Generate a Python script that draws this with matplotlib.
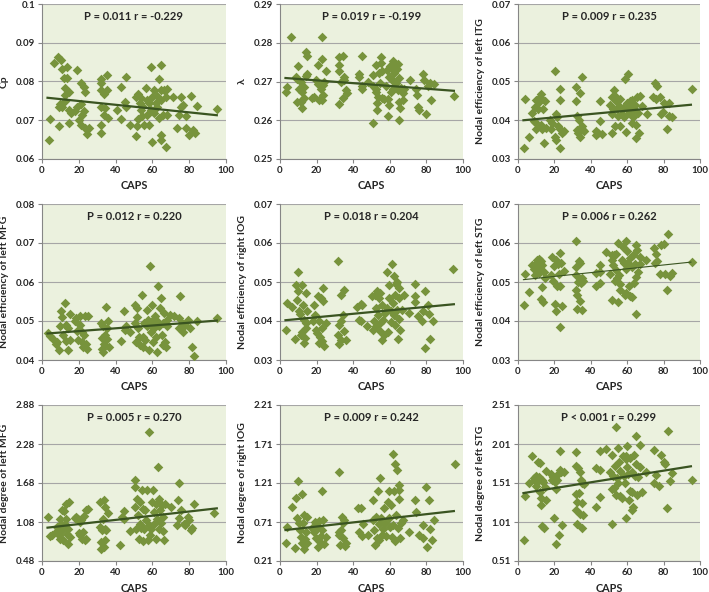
import matplotlib
matplotlib.use("Agg")
import matplotlib.pyplot as plt
import numpy as np

plt.rcParams['font.family'] = ['Lato', 'DejaVu Sans']

# ---------------- data ----------------
caps_label = "CAPS"
x_ticks = [0, 20, 40, 60, 80, 100]
trend_x = [3, 95]

# Panel 1: Cp
p1_x = [3.6, 4.5, 6.4, 8.5, 10.5, 9.5, 11, 13.6, 11.8, 13.6, 12.4, 14.5, 12.7, 10, 11, 9, 12.7, 14.5, 15.5, 14.5,
        19, 21, 23, 23.6, 19, 20, 21, 22, 23, 23.6, 24.5, 25.5, 21, 18, 32, 32, 35.5, 32, 33.6, 35.5, 32, 34.5, 33.6,
        36, 32, 32, 40.5, 43, 45.5, 43, 45, 45.5, 48, 51, 52, 51, 52, 53, 53.6, 53.6, 54.5, 55.5, 56.4, 57, 57, 58,
        59, 59.5, 60, 60, 61, 61, 62, 62.7, 63.6, 63.6, 64.5, 64.5, 64.5, 65.5, 64.5, 64.5, 66.4, 67.3, 67.3, 68, 68,
        71, 73.6, 74.5, 75.5, 75.5, 76.4, 78, 78, 80, 81, 82, 83, 84.5, 95, 51.5, 54.5, 58, 62.7]
p1_y = [0.065, 0.0703, 0.0849, 0.0862, 0.0855, 0.0684, 0.0832, 0.0837, 0.0808, 0.0808, 0.0782, 0.0773, 0.0765,
        0.0743, 0.0735, 0.0735, 0.075, 0.0727, 0.0718, 0.0692, 0.083, 0.0797, 0.0785, 0.0773, 0.0735, 0.0701, 0.0688,
        0.0714, 0.0723, 0.068, 0.0665, 0.068, 0.0743, 0.0723, 0.0806, 0.0796, 0.0818, 0.0777, 0.0769, 0.0779, 0.0735,
        0.0731, 0.0714, 0.0706, 0.0689, 0.0667, 0.0726, 0.0785, 0.0811, 0.0703, 0.0746, 0.0735, 0.0689, 0.0761, 0.0769,
        0.0659, 0.0702, 0.0745, 0.0727, 0.0758, 0.071, 0.0689, 0.0782, 0.0753, 0.0714, 0.0689, 0.0727, 0.0838, 0.0761,
        0.0643, 0.0779, 0.0719, 0.0745, 0.0735, 0.0806, 0.0706, 0.0842, 0.0779, 0.0753, 0.0714, 0.0663, 0.065, 0.0777,
        0.0631, 0.0761, 0.078, 0.0714, 0.076, 0.068, 0.0714, 0.0735, 0.076, 0.074, 0.0712, 0.068, 0.0663, 0.0763,
        0.0676, 0.0667, 0.0738, 0.0729, 0.0684, 0.0736, 0.0745, 0.0762]
p1_trend = [0.0758, 0.0713]

# Panel 2: lambda
p2_x = [3.1, 4, 6.2, 8.6, 9.5, 10, 9.5, 10.4, 11.3, 11.3, 12.2, 13, 13, 14, 14, 15, 15, 12, 12.2, 17.7, 18.6, 19.5,
        20.5, 21, 21.4, 22.3, 23, 23, 23, 23.7, 23.7, 24, 25, 32, 32, 32.4, 32, 33.3, 34.2, 34.2, 34.7, 35, 36, 36.4,
        43, 43, 44.8, 44.8, 44.8, 48.3, 50.6, 51, 51, 52.2, 52.2, 52.5, 52.8, 53, 53.4, 54.3, 54.7, 55.2, 55.2, 55.8,
        56, 57, 58, 58.3, 58.9, 58.9, 59.8, 59.8, 60, 60.7, 61.2, 61.6, 61.6, 62, 62.5, 63, 63.4, 64, 64.4, 64.7, 65,
        65.3, 65.3, 65.6, 66.2, 67, 67, 68, 70.8, 74.4, 74.8, 75.3, 75.9, 78, 78.9, 79.9, 80.8, 81.7, 82.6, 84, 95]
p2_y = [0.2672, 0.2687, 0.2814, 0.2711, 0.2706, 0.274, 0.2648, 0.268, 0.27, 0.2648, 0.2672, 0.2657, 0.2685, 0.2777,
        0.2713, 0.2766, 0.272, 0.2631, 0.2652, 0.2657, 0.2661, 0.2704, 0.2694, 0.2743, 0.2651, 0.268, 0.2814, 0.2758,
        0.2651, 0.2692, 0.2665, 0.27, 0.2727, 0.2763, 0.2743, 0.2727, 0.2643, 0.27, 0.2766, 0.2657, 0.2704, 0.2711,
        0.2679, 0.267, 0.272, 0.2711, 0.2766, 0.2689, 0.268, 0.27, 0.2717, 0.2689, 0.2593, 0.2743, 0.268, 0.2674,
        0.2645, 0.2627, 0.2661, 0.2722, 0.2697, 0.2763, 0.2747, 0.2657, 0.2727, 0.2654, 0.2689, 0.273, 0.2654, 0.261,
        0.264, 0.2711, 0.2739, 0.2672, 0.2704, 0.2754, 0.273, 0.268, 0.2722, 0.2743, 0.2696, 0.2732, 0.2677, 0.2745,
        0.2601, 0.2709, 0.2648, 0.2631, 0.2683, 0.267, 0.2652, 0.268, 0.2704, 0.268, 0.2665, 0.2634, 0.2627, 0.272,
        0.2703, 0.2617, 0.2689, 0.2697, 0.2651, 0.2694, 0.2663]
p2_trend = [0.2709, 0.2676]

# Panel 3: nodal efficiency of left ITG
p3_x = [3.1, 4, 6, 7.9, 8.6, 9.2, 9.5, 10.1, 10.1, 11, 11.4, 12, 12.8, 12.8, 13.4, 13.8, 14.1, 14.7, 15.2, 17.4,
        18.3, 18.9, 20.2, 20.2, 20.7, 21.1, 21.5, 22, 22.9, 22.9, 22.9, 23.3, 24.4, 25, 32.1, 32.1, 32.5, 32.5, 33,
        33.6, 33.9, 34.3, 34.9, 35.4, 35.8, 36.1, 42.8, 43.1, 44, 45.3, 45.3, 45.9, 50.8, 51.4, 51.4, 51.9, 52.3,
        52.7, 53.2, 53.8, 54.1, 54.5, 55, 55.4, 56, 56.3, 56.9, 57.8, 58.2, 58.7, 59.6, 60, 60, 60.6, 61.1, 61.5,
        61.8, 62.4, 62.9, 63.3, 63.7, 64.2, 64.8, 65.1, 65.5, 66, 66.6, 67, 67.9, 71, 74.3, 75.2, 76.1, 75.6, 78,
        78.3, 79.8, 80.2, 81.7, 83, 83.1, 84.4, 95.4]
p3_y = [0.0328, 0.0455, 0.0358, 0.0419, 0.0397, 0.0395, 0.0434, 0.0453, 0.0378, 0.0428, 0.0446, 0.046, 0.0468,
        0.0389, 0.0378, 0.0428, 0.034, 0.0449, 0.038, 0.0401, 0.0378, 0.0393, 0.0526, 0.0357, 0.0415, 0.035, 0.0409,
        0.0386, 0.0453, 0.048, 0.0328, 0.0378, 0.0367, 0.0371, 0.0485, 0.0449, 0.041, 0.0374, 0.0367, 0.04, 0.047,
        0.0358, 0.0511, 0.0386, 0.0375, 0.0371, 0.0371, 0.0362, 0.0367, 0.0397, 0.0449, 0.0365, 0.044, 0.0461,
        0.0367, 0.0415, 0.0428, 0.0479, 0.0384, 0.0449, 0.0459, 0.0428, 0.041, 0.0436, 0.0384, 0.0455, 0.0415,
        0.0432, 0.0409, 0.0506, 0.0369, 0.0444, 0.0428, 0.0519, 0.0419, 0.0434, 0.0449, 0.0393, 0.0453, 0.0409,
        0.0428, 0.044, 0.0354, 0.0389, 0.0461, 0.0419, 0.0367, 0.0462, 0.0438, 0.0415, 0.0461, 0.0495, 0.0489,
        0.0455, 0.046, 0.0415, 0.0421, 0.0444, 0.0378, 0.0444, 0.041, 0.0409, 0.048]
p3_trend = [0.0400, 0.0440]

# Panel 4: nodal efficiency of left MFG
p4_x = [3.3, 4.2, 6, 7.5, 8.2, 9.3, 9.6, 10.5, 11.1, 11.5, 12.4, 12.9, 13.3, 14.2, 14.2, 15.1, 15.1, 17.8, 18.7,
        19.1, 19.6, 20.5, 20.9, 21.5, 22, 22.4, 22.7, 23.3, 23.8, 24.2, 25.1, 31.8, 32.4, 32.4, 32.9, 33.3, 33.6,
        34.2, 34.7, 35.1, 35.5, 36, 36.5, 42.7, 44.5, 45.1, 45.6, 47.8, 50.5, 50.5, 51.1, 51.5, 51.8, 52.4, 52.9,
        53.3, 54.2, 54.7, 55.1, 55.5, 56, 56.9, 57.3, 57.8, 58.2, 58.7, 59.1, 59.6, 59.6, 60.2, 60.5, 60.9, 61.5,
        62, 62.4, 62.7, 63.3, 63.8, 64.2, 64.5, 65.1, 65.6, 66, 66.4, 66.9, 67.5, 67.8, 68.2, 69.6, 71.5, 74.2,
        75.1, 74.7, 76, 76.9, 77.8, 79.6, 80.5, 81.5, 82.4, 84.2, 95]
p4_y = [0.0468, 0.0462, 0.0454, 0.044, 0.0447, 0.0426, 0.0486, 0.0525, 0.0509, 0.0464, 0.0546, 0.0491, 0.0449,
        0.0481, 0.0426, 0.0518, 0.0451, 0.0499, 0.0508, 0.0475, 0.0451, 0.0491, 0.0512, 0.0447, 0.0473, 0.0434,
        0.0464, 0.0512, 0.0442, 0.0428, 0.0512, 0.0495, 0.0456, 0.0428, 0.0421, 0.0486, 0.0442, 0.0464, 0.0535,
        0.0481, 0.0454, 0.0499, 0.0434, 0.0449, 0.0525, 0.0477, 0.0486, 0.0473, 0.0542, 0.0495, 0.0447, 0.0534,
        0.0509, 0.0481, 0.046, 0.0439, 0.0567, 0.046, 0.0434, 0.0495, 0.0451, 0.0529, 0.0486, 0.0503, 0.0426,
        0.0641, 0.0473, 0.0542, 0.0495, 0.0447, 0.0503, 0.0481, 0.0512, 0.046, 0.042, 0.0499, 0.0591, 0.0486,
        0.0534, 0.056, 0.0464, 0.0439, 0.0495, 0.052, 0.0447, 0.0434, 0.0503, 0.0486, 0.0516, 0.0512, 0.0481,
        0.0564, 0.0508, 0.0495, 0.0473, 0.049, 0.0503, 0.0481, 0.0434, 0.0409, 0.0499, 0.0508]
p4_trend = [0.0468, 0.0501]

# Panel 5: nodal efficiency of right IOG
p5_x = [3.1, 4, 6.4, 8.2, 8.9, 9.5, 10, 10, 10.4, 10.7, 11.3, 11.8, 12.2, 12.7, 13.1, 13.1, 13.6, 14, 14, 14.4,
        14.9, 18, 18.5, 19, 19.8, 20.4, 20.9, 21.3, 21.3, 21.8, 22.4, 22.7, 23.1, 23.5, 23.5, 24, 24.9, 31.8, 31.8,
        32.2, 32.2, 33.1, 33.6, 33.6, 34.4, 34.9, 34.9, 35.8, 42.2, 43.1, 44, 44.5, 44.9, 47.6, 50.4, 50.7, 51.3,
        51.8, 52.2, 52.5, 53.1, 53.6, 54, 54.4, 54.9, 54.9, 55.5, 55.8, 56.2, 56.7, 57.6, 58.5, 58.5, 59.1, 59.5,
        59.8, 60.4, 60.9, 61.3, 61.6, 62.2, 62.5, 62.7, 63.1, 63.5, 64, 64.2, 64.5, 64.9, 64.9, 65.3, 65.8, 66.7,
        67.6, 70.4, 73.6, 74, 74, 75.5, 77.6, 78, 79.5, 79.5, 81, 81.3, 82.2, 83.5, 94.4]
p5_y = [0.0377, 0.0446, 0.0435, 0.0354, 0.0493, 0.0454, 0.0526, 0.0476, 0.0425, 0.0418, 0.0365, 0.0493, 0.0372,
        0.0441, 0.0403, 0.0343, 0.0356, 0.0471, 0.0382, 0.0395, 0.0425, 0.0399, 0.0441, 0.0416, 0.0377, 0.0368,
        0.0463, 0.0399, 0.0343, 0.036, 0.0458, 0.0349, 0.0383, 0.0484, 0.0452, 0.0337, 0.0395, 0.0555, 0.0365,
        0.0391, 0.034, 0.0399, 0.0467, 0.0351, 0.0416, 0.048, 0.0374, 0.0351, 0.0437, 0.0403, 0.0443, 0.04, 0.0441,
        0.0386, 0.0463, 0.0377, 0.04, 0.0467, 0.0433, 0.0386, 0.0476, 0.0416, 0.0458, 0.0395, 0.0471, 0.0374,
        0.0351, 0.0441, 0.0403, 0.0365, 0.042, 0.0526, 0.0433, 0.0372, 0.0493, 0.0458, 0.0426, 0.0397, 0.0545,
        0.0446, 0.0416, 0.0516, 0.039, 0.0467, 0.0496, 0.0429, 0.05, 0.0354, 0.0484, 0.0406, 0.0458, 0.0377,
        0.0429, 0.0467, 0.042, 0.0494, 0.0465, 0.045, 0.0412, 0.04, 0.0425, 0.033, 0.0477, 0.0441, 0.0418, 0.0354,
        0.04, 0.0534]
p5_trend = [0.0402, 0.0443]

# Panel 6: nodal efficiency of left STG
p6_x = [3.1, 4, 6.1, 7.9, 8.6, 9.2, 9.7, 10.1, 10.6, 11, 11.4, 11.6, 11.9, 12.3, 12.8, 12.8, 13.2, 13.4, 13.8, 14.1,
        14.7, 18.3, 18.9, 19.3, 19.6, 20.2, 20.7, 21.1, 21.5, 22, 22.6, 22.9, 22.9, 23.3, 23.9, 24.4, 25.1, 32.1,
        32.1, 32.1, 32.1, 32.5, 32.5, 33, 33.6, 33.9, 34.3, 34.5, 34.9, 35.4, 35.8, 42.8, 43.1, 45, 45.3, 45.3,
        48.3, 50.8, 51.4, 51.4, 51.9, 52.3, 52.7, 53.2, 53.8, 54.1, 54.5, 55, 55, 55.6, 56, 56.3, 57.4, 57.8, 58.2,
        58.7, 59.3, 59.6, 59.6, 60, 60.6, 61.1, 61.5, 61.8, 62.4, 62.9, 63.3, 63.7, 64.2, 64.7, 64.7, 65.1, 65.5,
        66, 67, 67.3, 70.6, 74.7, 75.2, 75.8, 76.1, 78, 78.3, 80.2, 80.7, 81.7, 82.6, 83.5, 84.4, 95.4]
p6_y = [0.0441, 0.0521, 0.0474, 0.0543, 0.0534, 0.0519, 0.0545, 0.0532, 0.0557, 0.054, 0.0523, 0.056, 0.0549,
        0.0534, 0.0555, 0.0457, 0.0486, 0.0543, 0.045, 0.0526, 0.051, 0.0517, 0.0563, 0.0503, 0.054, 0.0444, 0.0557,
        0.0425, 0.0491, 0.0545, 0.0521, 0.0574, 0.0384, 0.0489, 0.0549, 0.0438, 0.0529, 0.0604, 0.0538, 0.0519,
        0.048, 0.0467, 0.0432, 0.05, 0.0553, 0.0452, 0.0549, 0.0497, 0.0429, 0.051, 0.0503, 0.0489, 0.0523, 0.0543,
        0.0526, 0.0497, 0.0577, 0.0521, 0.057, 0.0454, 0.0557, 0.0543, 0.0569, 0.0502, 0.0532, 0.0572, 0.051,
        0.06, 0.045, 0.0519, 0.048, 0.0495, 0.0557, 0.0589, 0.0549, 0.0467, 0.0604, 0.0534, 0.0471, 0.0579,
        0.0549, 0.0489, 0.0465, 0.0562, 0.0538, 0.0462, 0.057, 0.0497, 0.0545, 0.0596, 0.0418, 0.0514, 0.0581,
        0.0526, 0.0563, 0.0545, 0.0557, 0.0587, 0.0549, 0.0572, 0.0553, 0.0521, 0.0596, 0.0598, 0.0521, 0.048,
        0.0623, 0.0515, 0.0523, 0.0551]
p6_trend = [0.0506, 0.0551]

# Panel 7: nodal degree of left MFG
p7_x = [3.3, 4.2, 5.6, 7.4, 8.1, 9.2, 9.6, 9.9, 10.5, 10.7, 11, 11.4, 11.8, 12.3, 12.8, 13.2, 13.7, 14.1, 14.1,
        14.6, 15, 17.7, 18.6, 19.5, 20.1, 20.4, 20.8, 21.3, 21.9, 22.2, 22.6, 23.1, 23.7, 24, 25, 31.6, 31.6,
        32.2, 32.2, 32.7, 33.1, 33.5, 33.5, 34, 34, 34.5, 34.9, 35.8, 42.5, 43.6, 44.3, 44.8, 47.6, 50.3, 50.3,
        50.8, 51.2, 51.5, 52.1, 52.6, 53, 53.3, 53.9, 54.4, 54.8, 55.1, 55.7, 56.2, 56.6, 57, 57.5, 58, 58.4, 58.8,
        59.3, 59.9, 60.2, 60.6, 61.1, 61.7, 62, 62.4, 62.9, 63.5, 63.8, 64.2, 64.7, 65.3, 65.6, 66, 66.5, 67.1,
        70.2, 73.2, 73.8, 74.7, 74.3, 75.6, 77.4, 77.9, 79.2, 79.7, 81, 81.6, 82.8, 93.7]
p7_y = [1.157, 0.865, 0.885, 0.926, 1.003, 0.875, 0.824, 1.131, 1.054, 1.259, 0.952, 0.798, 1.244, 1.054, 1.362,
        1.121, 0.9, 0.747, 0.977, 1.388, 0.849, 1.141, 1.157, 1.131, 0.916, 1.08, 0.885, 1.106, 0.824, 0.926,
        1.172, 0.798, 0.824, 1.259, 1.285, 1.388, 1.003, 0.772, 0.67, 0.952, 1.131, 1.413, 0.695, 0.798, 0.977,
        1.31, 0.952, 1.223, 0.731, 1.157, 1.244, 1.131, 0.936, 1.731, 1.613, 1.31, 0.977, 1.439, 1.182, 0.819,
        1.054, 1.388, 0.987, 1.567, 1.285, 0.788, 0.977, 1.259, 1.106, 1.577, 0.798, 1.029, 2.47, 0.885, 0.967,
        1.388, 1.577, 1.233, 1.054, 0.824, 1.362, 1.131, 1.926, 0.977, 1.429, 1.259, 1.07, 1.336, 0.936, 1.157,
        0.798, 1.362, 1.31, 1.039, 1.413, 1.68, 1.141, 1.259, 1.054, 1.039, 1.157, 1.106, 0.952, 0.987, 1.362,
        1.223]
p7_trend = [0.993, 1.29]

# Panel 8: nodal degree of right IOG
p8_x = [3.1, 4, 6.4, 8.2, 9, 9.5, 10, 10.4, 10.8, 11.3, 11.9, 12.2, 12.8, 13.2, 13.2, 13.7, 14.1, 14.5, 15, 17.7,
        18.6, 19.2, 19.9, 20.5, 21, 21.4, 21.8, 22.3, 22.9, 23.2, 23.6, 24.1, 25, 32, 32, 32.4, 32.7, 33.3, 33.8,
        34.2, 34.6, 35.1, 35.6, 36, 42.4, 43.3, 44.1, 44.7, 45.2, 47.9, 50.6, 51, 51.6, 52.1, 52.5, 52.8, 53.4,
        53.9, 54.3, 54.7, 55.2, 55.8, 56.1, 57.1, 57.6, 58, 58.9, 59.4, 59.8, 60.1, 60.7, 61.2, 61.6, 62, 62.5,
        62.9, 63.1, 63.4, 63.8, 64.4, 64.9, 64.9, 65.3, 65.6, 66.2, 67.1, 70.7, 74, 74.4, 75.9, 78.1, 78.4, 79.9,
        80.3, 81.4, 82.1, 83.2, 83.9, 95.4]
p8_y = [0.436, 0.65, 0.906, 0.372, 1.021, 0.757, 1.234, 0.692, 0.607, 0.522, 0.436, 1.064, 0.692, 0.8, 0.364,
        0.492, 0.586, 0.778, 0.436, 0.637, 0.586, 0.714, 0.5, 0.394, 0.65, 0.723, 0.458, 0.535, 1.106, 0.607,
        0.735, 0.424, 0.522, 1.345, 0.586, 0.544, 0.415, 0.607, 0.778, 0.5, 0.692, 0.735, 0.406, 0.436, 0.885,
        0.586, 0.885, 0.535, 0.68, 0.544, 0.991, 0.735, 0.607, 0.415, 0.778, 0.5, 1.106, 0.68, 0.479, 1.277,
        0.757, 0.544, 0.62, 0.885, 0.692, 0.535, 0.97, 1.106, 0.765, 0.65, 0.928, 0.522, 1.576, 0.671, 1.106,
        1.448, 0.466, 0.8, 1.376, 0.629, 1.119, 1.183, 1.004, 0.5, 0.692, 0.735, 0.586, 0.991, 0.842, 0.544, 0.5,
        0.671, 1.162, 0.394, 0.991, 0.62, 0.479, 0.735, 1.448]
p8_trend = [0.607, 0.850]

# Panel 9: nodal degree of left STG
p9_x = [3.1, 4, 6.1, 7.9, 8.6, 9.2, 9.7, 10.1, 10.6, 11, 11.4, 11.9, 12.3, 12.8, 12.8, 13.4, 13.4, 13.8, 14.1, 14.7,
        15.2, 15.2, 18.3, 18.9, 19.3, 19.6, 20.2, 20.7, 21.1, 21.5, 22, 22.6, 22.9, 23.3, 23.9, 24.4, 25.1, 32.1,
        32.1, 32.1, 32.1, 32.5, 32.5, 33, 33.6, 33.9, 34.3, 34.5, 34.9, 34.9, 35.4, 35.8, 36.1, 42.8, 43.1, 45,
        45.3, 45.3, 48.3, 50.8, 51.4, 51.4, 51.9, 52.3, 52.7, 53.2, 53.8, 54.1, 54.5, 55, 55, 55.6, 56, 56.3, 57.4,
        57.8, 58.2, 58.7, 59.3, 59.3, 59.6, 60, 60, 60.6, 61.1, 61.5, 61.8, 62.4, 62.9, 62.9, 63.3, 63.7, 64.2,
        64.8, 65.1, 65.5, 66, 67, 67.3, 67.9, 70.6, 74.7, 74.7, 75.8, 77.6, 78.3, 80.2, 80.7, 81.7, 82.6, 83.5,
        84.4, 95.4]
p9_y = [0.776, 1.338, 1.51, 1.853, 1.57, 1.553, 1.604, 1.476, 1.527, 1.784, 1.583, 1.767, 1.39, 1.312, 1.226,
        1.553, 0.96, 1.519, 0.939, 1.454, 1.295, 1.669, 1.626, 1.553, 1.583, 1.055, 1.527, 1.433, 0.725, 1.553,
        1.626, 0.84, 1.926, 1.682, 1.647, 0.969, 1.656, 1.913, 1.724, 1.368, 1.166, 0.982, 1.261, 1.699, 1.381,
        1.111, 1.656, 1.553, 1.51, 1.252, 0.939, 1.098, 1.497, 1.699, 1.196, 1.682, 1.926, 1.325, 1.947, 1.647,
        0.982, 1.433, 1.87, 1.604, 1.441, 1.733, 1.355, 2.231, 1.57, 1.956, 1.51, 1.776, 1.669, 1.338, 1.312,
        1.862, 1.604, 1.51, 1.055, 1.862, 1.819, 1.712, 1.99, 1.626, 1.295, 1.411, 1.827, 1.166, 1.647, 1.39,
        1.196, 1.87, 1.604, 2.111, 1.75, 1.355, 1.583, 1.999, 1.72, 1.398, 1.647, 1.939, 1.51, 1.613, 1.467, 1.87,
        1.776, 1.75, 1.184, 2.171, 1.54, 1.639, 1.553]
p9_trend = [1.381, 1.724]

ylabels = ["Cp", "λ", "Nodal efficiency of left ITG",
           "Nodal efficiency of left MFG", "Nodal efficiency of right IOG", "Nodal efficiency of left STG",
           "Nodal degree of left MFG", "Nodal degree of right IOG", "Nodal degree of left STG"]
stats = ["P = 0.011 r = -0.229", "P = 0.019 r = -0.199", "P = 0.009 r = 0.235",
         "P = 0.012 r = 0.220", "P = 0.018 r = 0.204", "P = 0.006 r = 0.262",
         "P = 0.005 r = 0.270", "P = 0.009 r = 0.242", "P < 0.001 r = 0.299"]
ytick_labels = [["0.06", "0.07", "0.08", "0.09", "0.1"],
                ["0.25", "0.26", "0.27", "0.28", "0.29"],
                ["0.03", "0.04", "0.05", "0.06", "0.07"],
                ["0.04", "0.05", "0.06", "0.07", "0.08"],
                ["0.03", "0.04", "0.05", "0.06", "0.07"],
                ["0.03", "0.04", "0.05", "0.06", "0.07"],
                ["0.48", "1.08", "1.68", "2.28", "2.88"],
                ["0.21", "0.71", "1.21", "1.71", "2.21"],
                ["0.51", "1.01", "1.51", "2.01", "2.51"]]

xs = [p1_x, p2_x, p3_x, p4_x, p5_x, p6_x, p7_x, p8_x, p9_x]
ys = [p1_y, p2_y, p3_y, p4_y, p5_y, p6_y, p7_y, p8_y, p9_y]
trends = [p1_trend, p2_trend, p3_trend, p4_trend, p5_trend, p6_trend, p7_trend, p8_trend, p9_trend]

# ---------------- styling ----------------
BG = "#EBF1DE"
MARK = "#77933C"
LINE = "#3A5421"
GRID = "#A6A6A6"
TXT = "#262626"

W, H = 709, 592
fig = plt.figure(figsize=(W / 100, H / 100), dpi=100)

col_lr = [(42, 226), (280, 463), (518, 700)]
row_tb = [(4, 159), (204, 360), (405, 561)]
line_widths = [1.6, 1.6, 1.6, 1.6, 1.6, 0.8, 1.6, 1.6, 1.6]

for i in range(9):
    r, c = divmod(i, 3)
    l, rr = col_lr[c]
    t, b = row_tb[r]
    ax = fig.add_axes([l / W, (H - b) / H, (rr - l) / W, (b - t) / H])
    ax.set_facecolor(BG)
    yt = [float(v) for v in ytick_labels[i]]
    ax.set_ylim(yt[0], yt[-1])
    ax.set_xlim(0, 100)
    ax.set_yticks(yt)
    ax.set_yticklabels(ytick_labels[i])
    ax.set_xticks(x_ticks)
    ax.set_xticklabels([str(v) for v in x_ticks])
    ax.grid(axis='y', color=GRID, linewidth=0.8)
    ax.set_axisbelow(True)
    for s in ['top', 'right']:
        ax.spines[s].set_visible(False)
    for s in ['left', 'bottom']:
        ax.spines[s].set_color("#868686")
        ax.spines[s].set_linewidth(0.8)
    ax.tick_params(axis='both', length=3, width=0.8, color="#868686", labelsize=7,
                   labelcolor=TXT, pad=2)
    for lab in ax.get_xticklabels() + ax.get_yticklabels():
        lab.set_fontweight('bold')
    ax.scatter(xs[i], ys[i], marker='D', s=24, color=MARK, linewidths=0, zorder=3)
    ax.plot(trend_x, trends[i], color=LINE, linewidth=line_widths[i], zorder=4)
    ax.set_xlabel(caps_label, fontsize=7.8, fontweight='bold', color=TXT, labelpad=4)
    ax.set_ylabel(ylabels[i], fontsize=7.5, fontweight='bold', color=TXT, labelpad=5)
    ax.text(0.5, 0.92, stats[i], transform=ax.transAxes, ha='center', va='center',
            fontsize=8, fontweight='bold', color=TXT)

fig.savefig("out.png", dpi=100)
